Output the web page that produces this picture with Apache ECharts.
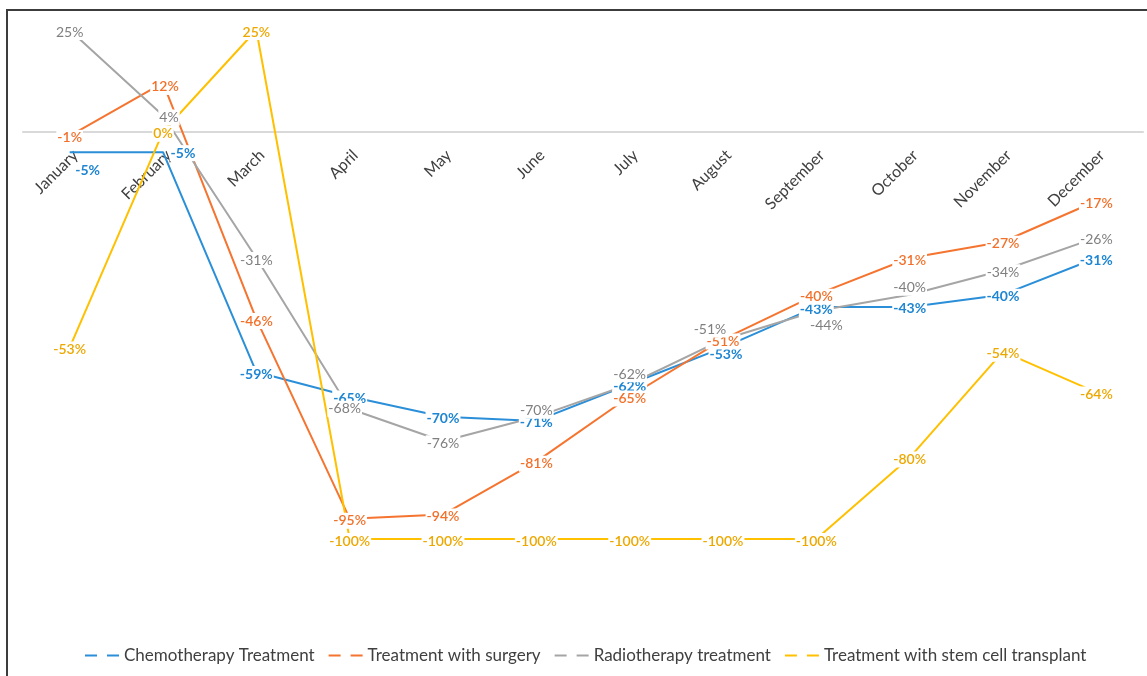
<!DOCTYPE html>
<html>
<head>
<meta charset="utf-8">
<script src="https://cdn.jsdelivr.net/npm/echarts@6/dist/echarts.min.js"></script>
<style>
  html, body { margin: 0; padding: 0; background: #fff; }
  #frame { position: absolute; left: 6px; top: 9px; width: 1141px; height: 667px;
           border-left: 2px solid #3c3c3c; border-top: 2px solid #3c3c3c; box-sizing: border-box; }
  #chart { position: absolute; left: 0; top: 0; width: 1147px; height: 676px; }
</style>
</head>
<body>
<div id="frame"></div>
<div id="chart"></div>
<script>
// Monthly change (%) by treatment type
const months = ['January', 'February', 'March', 'April', 'May', 'June',
  'July', 'August', 'September', 'October', 'November', 'December'];
const chemotherapy = [-5, -5, -59, -65, -70, -71, -62, -53, -43, -43, -40, -31];
const surgery = [-1, 12, -46, -95, -94, -81, -65, -51, -40, -31, -27, -17];
const radiotherapy = [25, 4, -31, -68, -76, -70, -62, -51, -44, -40, -34, -26];
const stemCell = [-53, 0, 25, -100, -100, -100, -100, -100, -100, -80, -54, -64];

// small per-point label shifts so crowded labels stay readable
const labelShift = {
  chemo: { 0: [18, 16], 1: [20, -1], 7: [3, 5], 8: [0, 1] },
  surgery: { 1: [2, 2] },
  radio: { 1: [6, 0], 3: [-5, -2], 5: [0, -8], 6: [0, -12], 7: [-13, -12], 8: [10, 13], 9: [0, -9] },
  stem: {}
};
const baseShift = [0, 2];

function points(values, shifts) {
  return values.map((v, i) => {
    const s = shifts[i] || [0, 0];
    return { value: v, label: { offset: [baseShift[0] + s[0], baseShift[1] + s[1]] } };
  });
}

function lineSeries(name, values, shifts, color, labelColor, weight) {
  return {
    name: name,
    type: 'line',
    data: points(values, shifts),
    symbol: 'circle',
    symbolSize: 0,
    itemStyle: { color: color },
    lineStyle: { color: color, width: 2 },
    label: {
      show: true,
      position: 'inside',
      formatter: p => p.value + '%',
      color: labelColor,
      fontFamily: 'Lato',
      fontSize: 14,
      fontWeight: weight,
      backgroundColor: '#fff',
      padding: [1, 1]
    },
    emphasis: { disabled: true },
    animation: false
  };
}

const chart = echarts.init(document.getElementById('chart'), null, { renderer: 'canvas' });
chart.setOption({
  backgroundColor: 'transparent',
  animation: false,
  grid: { left: 23, right: 4, top: 30, bottom: 137, outerBoundsMode: 'none' },
  xAxis: {
    type: 'category',
    data: months,
    boundaryGap: true,
    z: 3,
    // the axis sits on the zero line
    offset: -407,
    axisLine: { onZero: false, lineStyle: { color: '#d9d9d9', width: 2 } },
    axisTick: { show: false },
    axisLabel: {
      rotate: 45,
      margin: 15,
      interval: 0,
      verticalAlign: 'top',
      color: '#404040',
      fontFamily: 'Lato',
      fontSize: 16,
      backgroundColor: '#fff'
    },
    splitLine: { show: false }
  },
  yAxis: {
    type: 'value',
    min: -100,
    max: 25,
    show: false,
    splitLine: { show: false }
  },
  legend: {
    bottom: 7,
    left: 80,
    itemWidth: 34,
    itemHeight: 3,
    itemGap: 14,
    icon: 'path://M0,0H12V2H0Z M22,0H34V2H22Z',
    textStyle: { color: '#404040', fontFamily: 'Lato', fontSize: 17 },
    data: ['Chemotherapy Treatment', 'Treatment with surgery', 'Radiotherapy treatment', 'Treatment with stem cell transplant']
  },
  series: [
    lineSeries('Chemotherapy Treatment', chemotherapy, labelShift.chemo, '#2a8fd8', '#1e86d2', 'bold'),
    lineSeries('Treatment with surgery', surgery, labelShift.surgery, '#f5742f', '#f2702a', 600),
    lineSeries('Radiotherapy treatment', radiotherapy, labelShift.radio, '#a5a5a5', '#7f7f7f', 'normal'),
    lineSeries('Treatment with stem cell transplant', stemCell, labelShift.stem, '#ffc000', '#eda800', 600)
  ]
});
</script>
</body>
</html>
